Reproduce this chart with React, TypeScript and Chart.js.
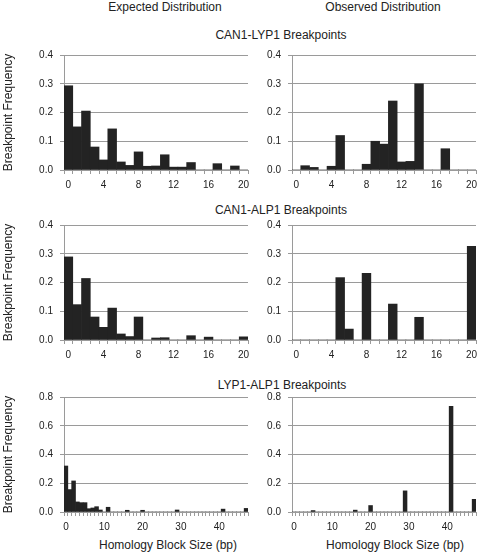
import React, { useEffect, useRef } from "react";
import { Chart, registerables } from "chart.js";

Chart.register(...registerables);

// ---- data ----
const sizes20 = ["0","1","2","3","4","5","6","7","8","9","10","11","12","13","14","15","16","17","18","19","20"];
const sizes47 = ["0","1","2","3","4","5","6","7","8","9","10","11","12","13","14","15","16","17","18","19","20","21","22","23","24","25","26","27","28","29","30","31","32","33","34","35","36","37","38","39","40","41","42","43","44","45","46","47"];

const expectedCanLyp = [0.293, 0.15, 0.205, 0.08, 0.035, 0.143, 0.028, 0.016, 0.063, 0.013, 0.014, 0.053, 0.01, 0.01, 0.026, 0, 0, 0.022, 0, 0.014, 0];
const observedCanLyp = [0, 0.015, 0.009, 0, 0.013, 0.12, 0, 0, 0.02, 0.1, 0.09, 0.24, 0.028, 0.03, 0.3, 0, 0, 0.074, 0, 0, 0];

const expectedCanAlp = [0.289, 0.123, 0.214, 0.08, 0.044, 0.111, 0.021, 0.012, 0.08, 0, 0.007, 0.008, 0, 0, 0.015, 0, 0.01, 0, 0, 0, 0.011];
const observedCanAlp = [0, 0, 0, 0, 0, 0.217, 0.038, 0, 0.232, 0, 0, 0.125, 0, 0, 0.079, 0, 0, 0, 0, 0, 0.326];

const expectedLypAlp = [0.32, 0.156, 0.216, 0.07, 0.065, 0.065, 0.023, 0.028, 0.037, 0.014, 0, 0.033, 0, 0, 0, 0, 0.012, 0, 0, 0, 0.012, 0, 0, 0, 0, 0, 0, 0, 0, 0.014, 0, 0, 0, 0, 0, 0, 0, 0, 0, 0, 0, 0.02, 0, 0, 0, 0, 0, 0.025];
const observedLypAlp = [0, 0, 0, 0, 0, 0.01, 0, 0, 0, 0, 0, 0, 0, 0, 0, 0, 0.013, 0, 0, 0, 0.045, 0, 0, 0, 0, 0, 0, 0, 0, 0.147, 0, 0, 0, 0, 0, 0, 0, 0, 0, 0, 0, 0.735, 0, 0, 0, 0, 0, 0.088];

const columnTitles = ["Expected Distribution", "Observed Distribution"];
const panelTitles = ["CAN1-LYP1 Breakpoints", "CAN1-ALP1 Breakpoints", "LYP1-ALP1 Breakpoints"];
const yAxisTitle = "Breakpoint Frequency";
const xAxisTitle = "Homology Block Size (bp)";

// ---- styles ----
const FONT = '"Liberation Sans", Arial, Helvetica, sans-serif';
const TEXT = "#222";
const GRID = "#9a9a9a";
const BAR = "#232323";

type PanelProps = {
  labels: string[];
  values: number[];
  yMax: number;
  yStep: number;
  labelEvery: number;
  left: number;
  top: number;
  width: number;
  height: number;
  yWidth: number;
  xHeight: number;
  yTitle?: string;
};

function Panel(p: PanelProps) {
  const ref = useRef<HTMLCanvasElement>(null);
  useEffect(() => {
    const chart = new Chart(ref.current as HTMLCanvasElement, {
      type: "bar",
      data: {
        labels: p.labels,
        datasets: [
          {
            data: p.values,
            backgroundColor: BAR,
            borderWidth: 0,
            barPercentage: 1,
            categoryPercentage: 1,
          },
        ],
      },
      options: {
        animation: false,
        responsive: false,
        devicePixelRatio: 1,
        layout: { padding: { top: 10, right: 4, left: 0, bottom: 0 } },
        plugins: { legend: { display: false }, tooltip: { enabled: false } },
        scales: {
          x: {
            grid: { drawOnChartArea: false, drawTicks: true, tickLength: 4, color: GRID, offset: true },
            border: { color: GRID, width: 1 },
            ticks: {
              autoSkip: false,
              maxRotation: 0,
              minRotation: 0,
              padding: 5,
              color: TEXT,
              font: { family: FONT, size: 10 },
              callback: (_v: any, i: number) => (i % p.labelEvery === 0 ? p.labels[i] : ""),
            },
            afterFit: (s: any) => {
              s.height = p.xHeight;
              s.paddingLeft = 0;
              s.paddingRight = 0;
            },
          },
          y: {
            min: 0,
            max: p.yMax,
            grid: { color: GRID, tickLength: 4, drawTicks: true },
            border: { color: GRID, width: 1 },
            ticks: {
              stepSize: p.yStep,
              padding: 7,
              color: TEXT,
              font: { family: FONT, size: 10 },
              callback: (v: any) => Number(v).toFixed(1),
            },
            title: {
              display: !!p.yTitle,
              text: p.yTitle || "",
              color: TEXT,
              font: { family: FONT, size: 12 },
              padding: { top: 1, bottom: 0 },
            },
            afterFit: (s: any) => {
              s.width = p.yWidth;
              s.paddingTop = 0;
              s.paddingBottom = 0;
            },
          },
        },
      } as any,
    });
    return () => chart.destroy();
  }, []);
  return (
    <canvas
      ref={ref}
      width={p.width}
      height={p.height}
      style={{ position: "absolute", left: p.left, top: p.top, width: p.width, height: p.height, display: "block" }}
    />
  );
}

function Label({ text, cx, cy }: { text: string; cx: number; cy: number }) {
  return (
    <div
      style={{
        position: "absolute",
        left: cx - 120,
        top: cy - 7,
        width: 240,
        lineHeight: "14px",
        fontSize: 12,
        textAlign: "center",
        whiteSpace: "nowrap",
        color: TEXT,
        fontFamily: FONT,
      }}
    >
      {text}
    </div>
  );
}

export default function App() {
  const L = { left: 0, width: 252, yWidth: 64 };
  const R = { left: 252, width: 228, yWidth: 40 };
  const rows = [
    { top: 45, height: 150, xHeight: 25 },
    { top: 215, height: 150, xHeight: 25 },
    { top: 387, height: 165, xHeight: 40 },
  ];
  return (
    <div style={{ position: "absolute", left: 0, top: 0, width: 480, height: 552, background: "#fff", overflow: "hidden" }}>
      <Label text={columnTitles[0]} cx={165} cy={7} />
      <Label text={columnTitles[1]} cx={383} cy={7} />
      <Label text={panelTitles[0]} cx={281} cy={35} />
      <Label text={panelTitles[1]} cx={281} cy={210} />
      <Label text={panelTitles[2]} cx={282} cy={385} />
      <Label text={xAxisTitle} cx={168} cy={545} />
      <Label text={xAxisTitle} cx={395} cy={545} />

      <Panel labels={sizes20} values={expectedCanLyp} yMax={0.4} yStep={0.1} labelEvery={4} {...L} {...rows[0]} yTitle={yAxisTitle} />
      <Panel labels={sizes20} values={observedCanLyp} yMax={0.4} yStep={0.1} labelEvery={4} {...R} {...rows[0]} />
      <Panel labels={sizes20} values={expectedCanAlp} yMax={0.4} yStep={0.1} labelEvery={4} {...L} {...rows[1]} yTitle={yAxisTitle} />
      <Panel labels={sizes20} values={observedCanAlp} yMax={0.4} yStep={0.1} labelEvery={4} {...R} {...rows[1]} />
      <Panel labels={sizes47} values={expectedLypAlp} yMax={0.8} yStep={0.2} labelEvery={10} {...L} {...rows[2]} yTitle={yAxisTitle} />
      <Panel labels={sizes47} values={observedLypAlp} yMax={0.8} yStep={0.2} labelEvery={10} {...R} {...rows[2]} />
    </div>
  );
}
